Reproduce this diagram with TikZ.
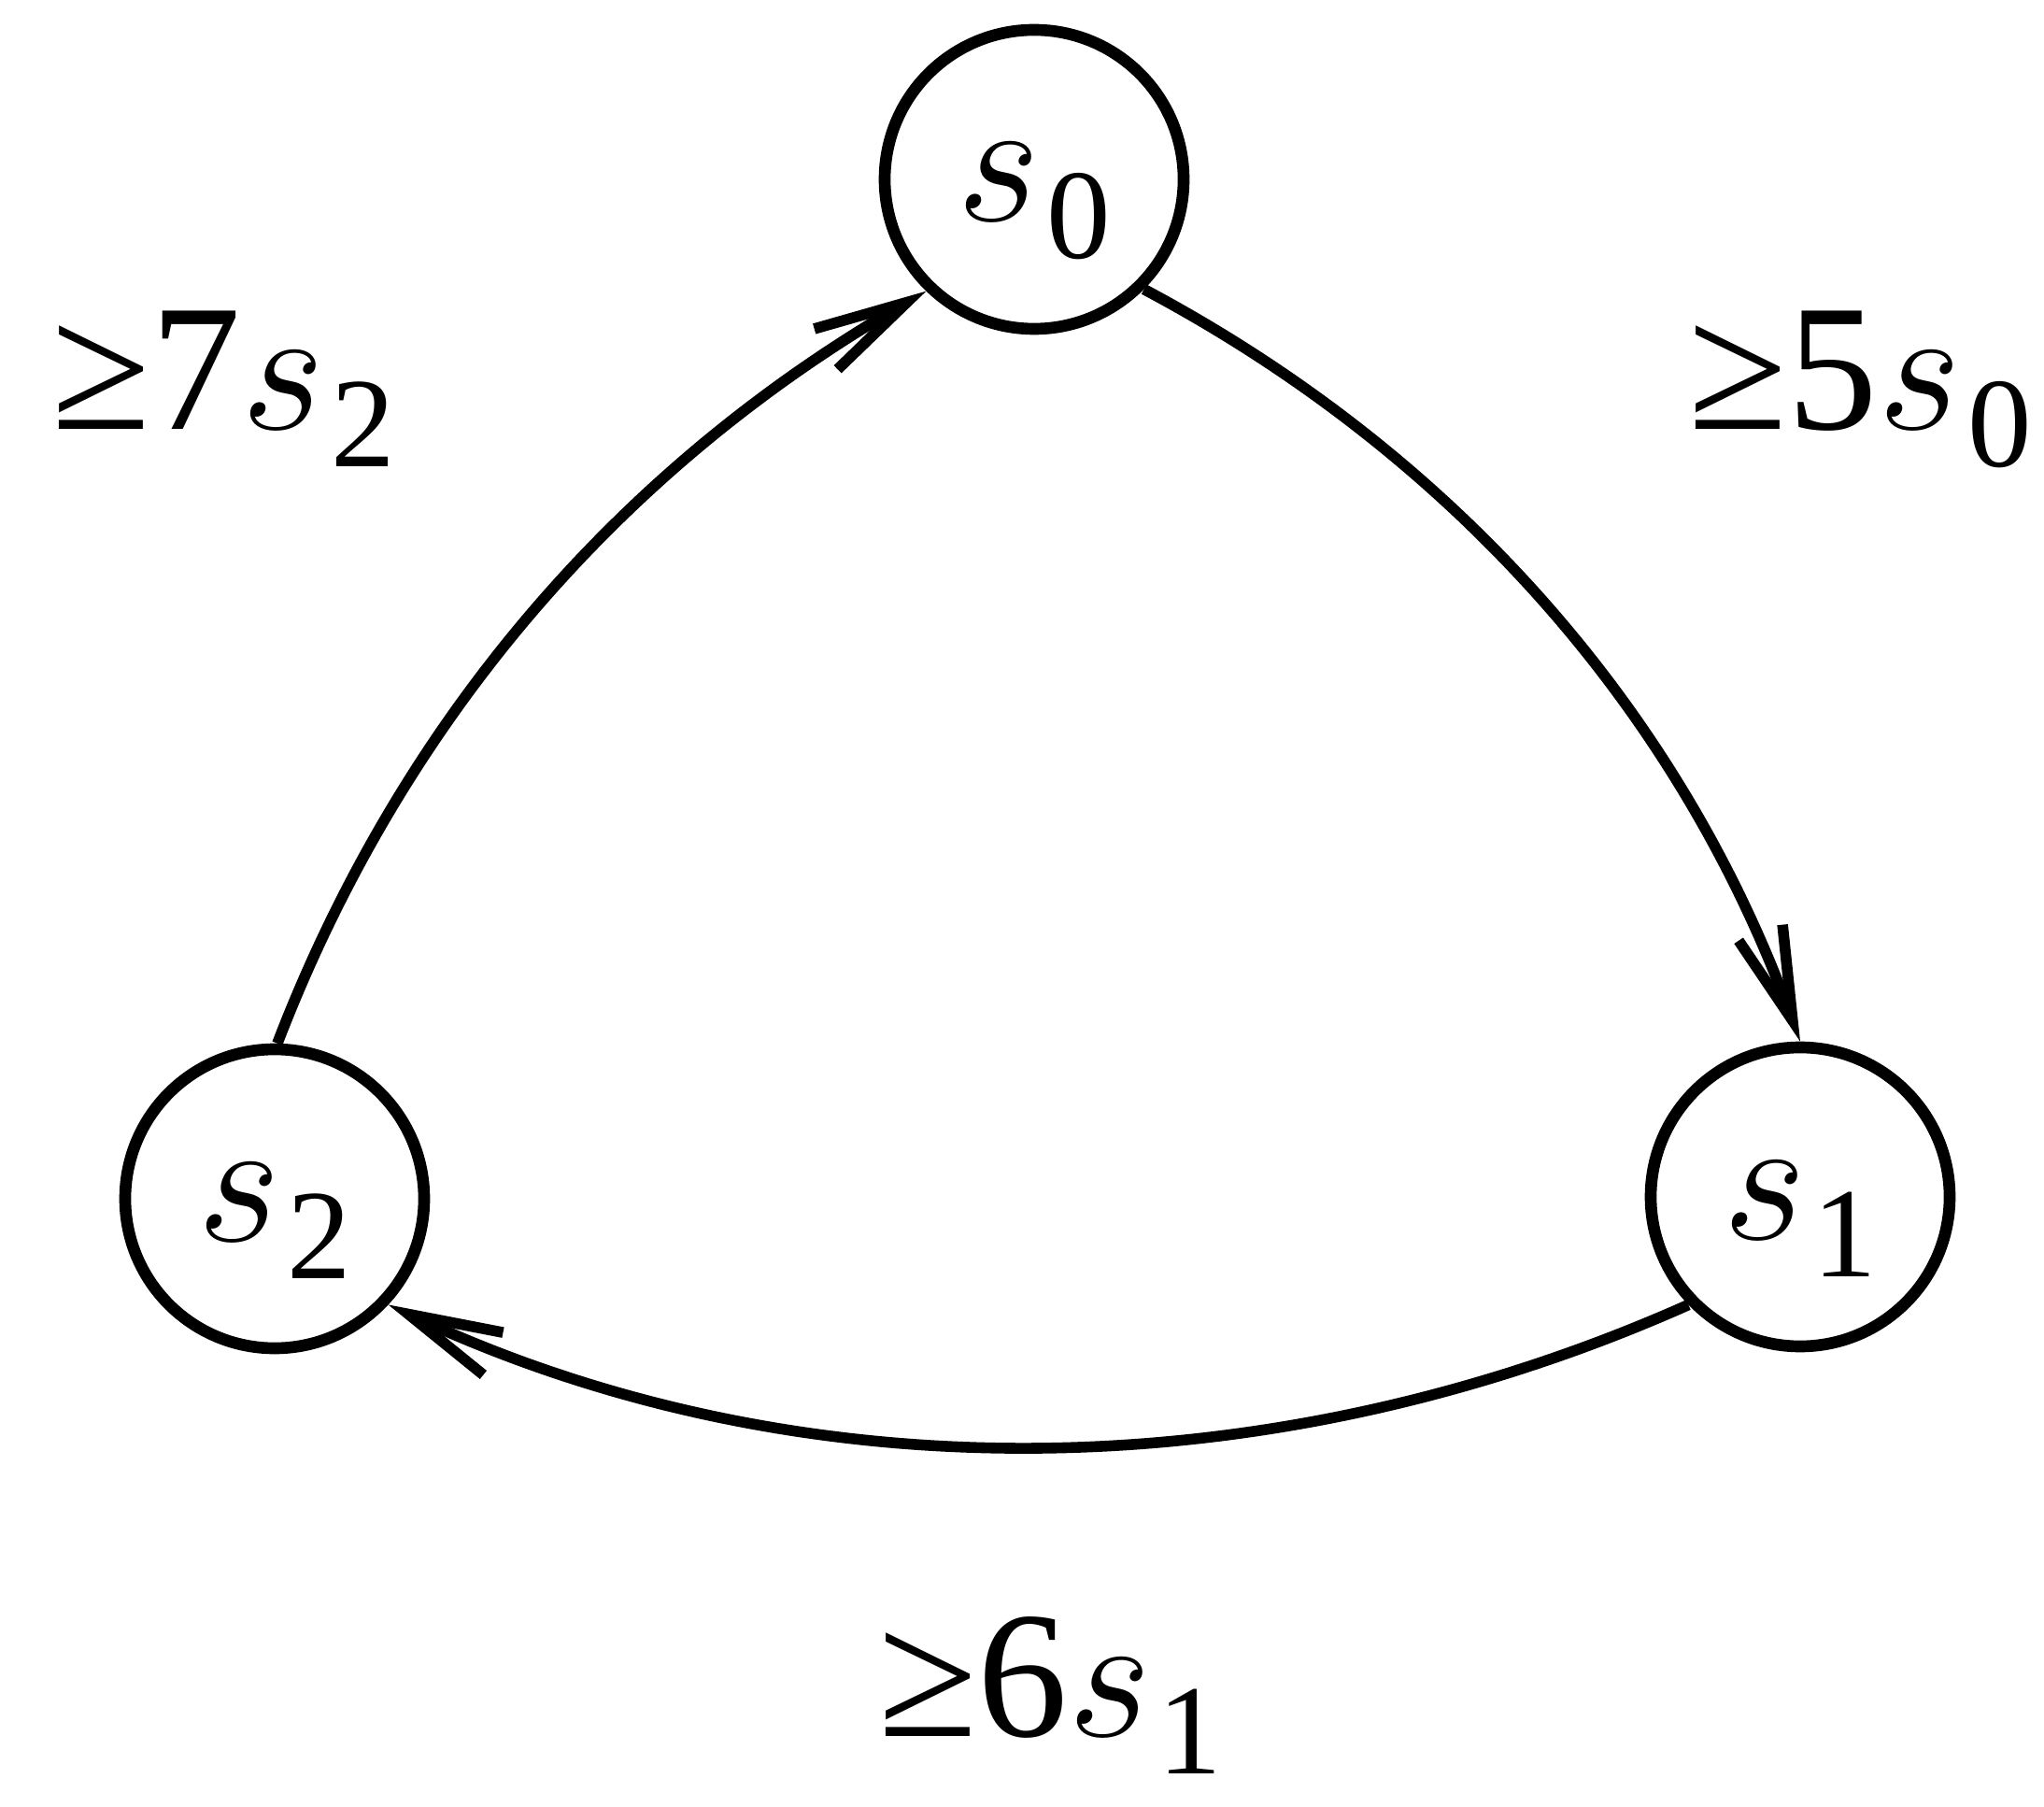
\RequirePackage{fix-cm}
\documentclass[tikz,border=0pt]{standalone}
\usepackage{fontspec}
\setmainfont{Liberation Serif}
\usetikzlibrary{arrows.meta}
\newcommand{\sname}[1]{$s$\hspace{0.07cm}\raisebox{-0.4cm}{\fontsize{39}{39}\selectfont #1}}

\begin{document}
\begin{tikzpicture}[
  font=\fontsize{55}{60}\selectfont,
  state/.style={circle, draw, line width=3.6pt, minimum size=3.2cm,
    inner sep=0pt, text height=0.9cm, text depth=0pt},
  bnd/.style={inner sep=0pt, anchor=base west},
  arr/.style={-{Straight Barb[length=1cm, width=0.5cm]}, line width=3.3pt}
]
\useasboundingbox (0,0) rectangle (21.88,19.33);

\node[state] (s0) at (11.07,17.41) {\sname{0}};
\node[state] (s1) at (19.27,6.52) {\sname{1}};
\node[state] (s2) at (2.94,6.50) {\sname{2}};

\node[bnd] (b2) at (0.55,14.73) {≥7\sname{2}};
\node[bnd] (b0) at (18.07,14.73) {≥5\sname{0}};
\node[bnd] (b1) at (9.40,0.75) {≥6\sname{1}};

\draw[arr] (s2.89) to[out=69, in=210, looseness=0.9] (s0.226);
\draw[arr] (s0.315) to[out=-28, in=110, looseness=0.9] (s1.90);
\draw[arr] (s1.224) to[out=204, in=335, looseness=0.9] (s2.317);
\end{tikzpicture}
\end{document}
